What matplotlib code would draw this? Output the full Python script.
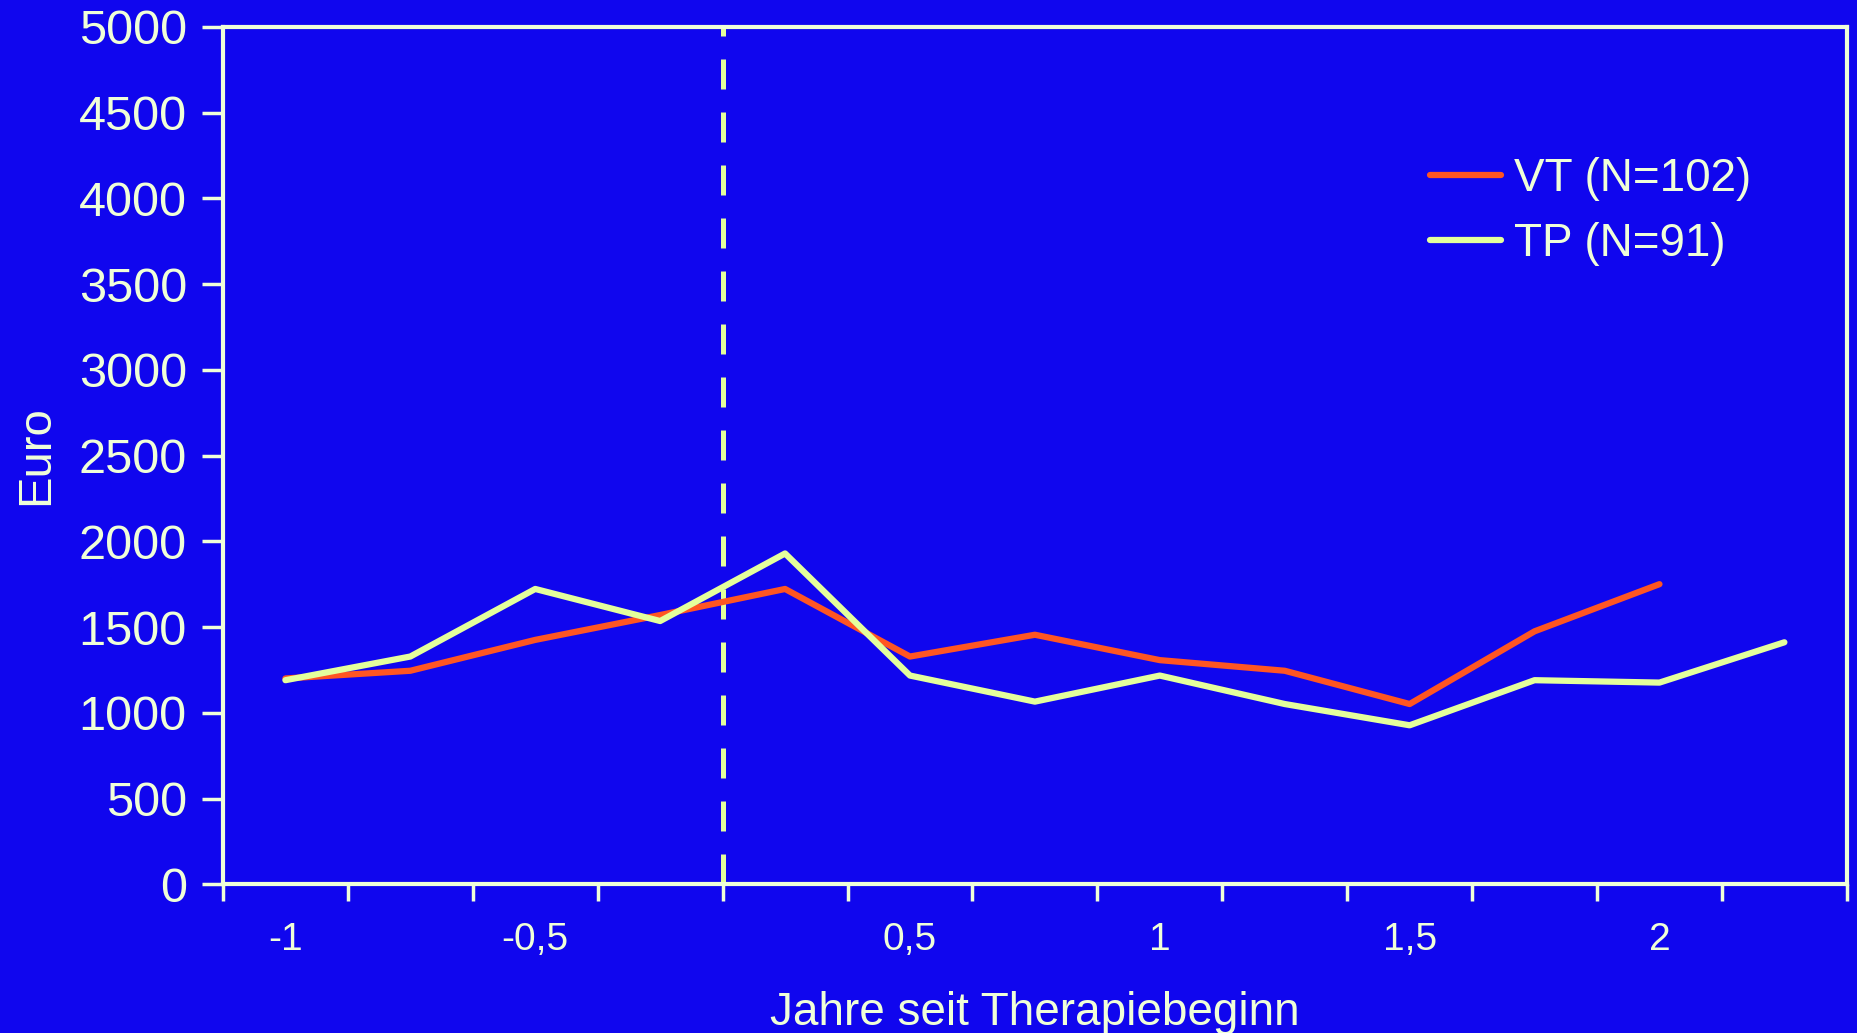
import numpy as np
import matplotlib
matplotlib.use("Agg")
import matplotlib.pyplot as plt

# Quartale seit Therapiebeginn (Kategorien) und Kosten je Gruppe
quartale = [-1, -0.75, -0.5, -0.25, 0.25, 0.5, 0.75, 1, 1.25, 1.5, 1.75, 2, 2.25]
x_labels = ["-1", "", "-0,5", "", "", "0,5", "", "1", "", "1,5", "", "2", ""]
vt_kosten = [1200, 1245, 1425, 1570, 1722, 1328, 1455, 1307, 1245, 1051, 1475, 1750, np.nan]
tp_kosten = [1190, 1328, 1722, 1535, 1929, 1217, 1065, 1217, 1051, 927, 1190, 1176, 1411]
y_ticks = [0, 500, 1000, 1500, 2000, 2500, 3000, 3500, 4000, 4500, 5000]

BG = "#1006EE"
FG = "#F0FFD8"
VT_COL = "#FF5522"
TP_COL = "#E4FF9C"
NARROW = ['Liberation Sans Narrow', 'Liberation Sans']

plt.rcParams['font.family'] = ['Liberation Sans', 'DejaVu Sans']

fig = plt.figure(figsize=(18.58, 10.33), dpi=100, facecolor=BG)
ax = fig.add_axes([0.120, 0.144, 0.874, 0.830], facecolor=BG)

pos = np.arange(len(quartale))
ax.plot(pos, vt_kosten, color=VT_COL, lw=4.5, label="VT (N=102)", solid_capstyle="round")
ax.plot(pos, tp_kosten, color=TP_COL, lw=4.5, label="TP (N=91)", solid_capstyle="round")

# Therapiebeginn: gestrichelte Linie zwischen -0,25 und 0,25
ax.axvline(3.5, color=TP_COL, lw=3.6, dashes=(6, 4.6), zorder=1)

ax.set_xlim(-0.5, len(quartale) - 0.5)
ax.set_ylim(0, 5000)
ax.set_yticks(y_ticks)
ax.set_yticklabels([str(v) for v in y_ticks], fontsize=35, color=FG)

# Ticks zwischen den Kategorien, Beschriftung in der Mitte
ax.set_xticks(np.arange(-0.5, len(quartale)), minor=False)
ax.set_xticklabels([])
ax.set_xticks(pos, minor=True)
ax.set_xticklabels(x_labels, minor=True, fontsize=28, color=FG, family=NARROW)
ax.tick_params(axis="x", which="minor", length=0, pad=27)
ax.tick_params(axis="x", which="major", length=12, width=2.5, color=FG, direction="out")
ax.tick_params(axis="y", length=15, width=2.5, color=FG, pad=11)

for s in ax.spines.values():
    s.set_color(FG)
    s.set_linewidth(3)

ax.set_ylabel("Euro", fontsize=34, color=FG, labelpad=15)
ax.set_xlabel("Jahre seit Therapiebeginn", fontsize=33, color=FG, labelpad=24, family=NARROW)

leg = ax.legend(loc="upper left", bbox_to_anchor=(0.743, 0.848), frameon=False,
                fontsize=33, labelcolor=FG, handlelength=1.55, handletextpad=0.3,
                labelspacing=0.45, borderpad=0, borderaxespad=0)

fig.savefig("out.png", dpi=100, facecolor=BG)
